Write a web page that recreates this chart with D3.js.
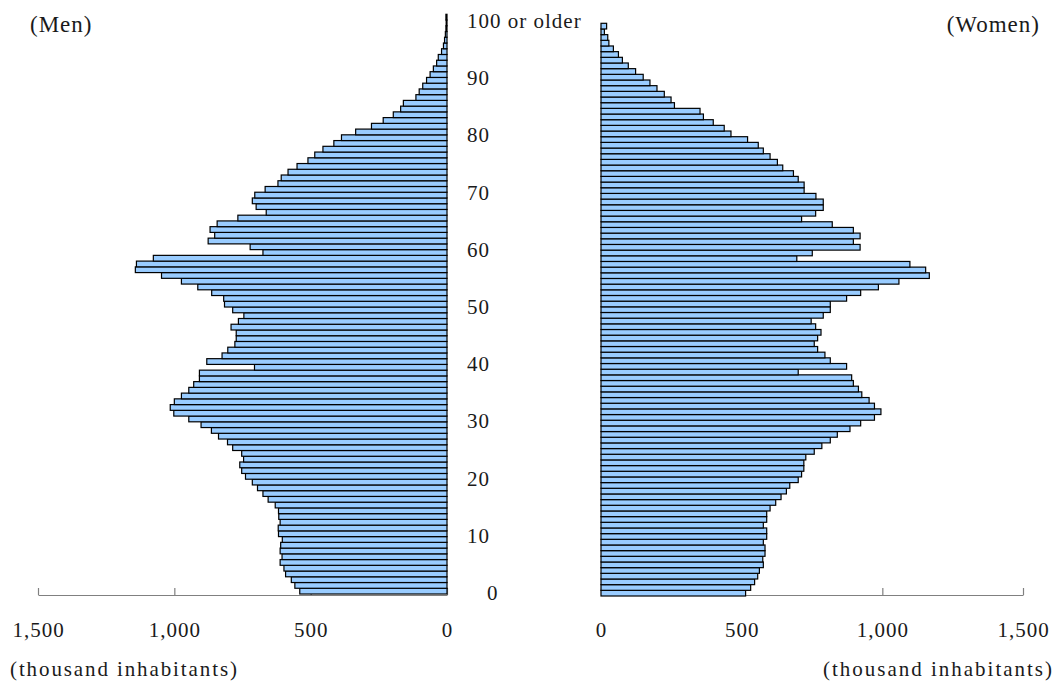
<!DOCTYPE html>
<html>
<head>
<meta charset="utf-8">
<script src="https://cdn.jsdelivr.net/npm/d3@7"></script>
<style>
  body { margin: 0; background: #fff; }
  text { font-family: "Liberation Serif", "DejaVu Serif", serif; fill: #1a1a1a; }
</style>
</head>
<body>
<div id="container"></div>
<script>
/* DATA (thousand inhabitants, index = age, last = 100 or older) */
const ages = d3.range(0, 101)
const men = [
  540, 558, 571, 592, 598, 612, 605, 612, 610, 604,
  618, 619, 612, 617, 618, 630, 656, 675, 695, 714,
  739, 753, 760, 746, 753, 786, 805, 838, 864, 902,
  947, 1002, 1015, 1000, 974, 947, 929, 908, 908, 706,
  881, 825, 804, 778, 773, 773, 792, 765, 745, 786,
  816, 819, 863, 914, 974, 1047, 1143, 1139, 1077, 675,
  722, 876, 852, 869, 843, 767, 663, 700, 714, 705,
  667, 620, 608, 583, 550, 510, 485, 455, 415, 387,
  335, 277, 234, 197, 170, 160, 114, 102, 89, 75,
  62, 50, 38, 32, 20, 13, 9, 6, 4, 3,
  4
]
const women = [
  514, 532, 546, 557, 563, 577, 575, 583, 583, 577,
  589, 589, 577, 589, 589, 601, 621, 640, 659, 671,
  701, 713, 721, 721, 728, 758, 785, 815, 840, 885,
  923, 972, 995, 972, 953, 927, 915, 897, 891, 701,
  873, 815, 796, 770, 758, 770, 782, 763, 747, 790,
  815, 815, 873, 923, 986, 1059, 1167, 1154, 1098, 696,
  751, 921, 897, 921, 897, 822, 713, 763, 790, 790,
  764, 722, 722, 701, 684, 646, 627, 601, 577, 559,
  521, 462, 438, 399, 364, 352, 261, 249, 225, 199,
  174, 150, 123, 97, 76, 62, 44, 28, 24, 12,
  20
]
const ageTicks = [0, 10, 20, 30, 40, 50, 60, 70, 80, 90, 100]
const ageTickLabels = ["0", "10", "20", "30", "40", "50", "60", "70", "80", "90", "100 or older"]
const valueTicks = [0, 500, 1000, 1500]

/* CONSTANTS */
const width = 1059, height = 684
const fontSize = 21

const svg = d3.select("#container")
  .append("svg")
  .attr("width", width)
  .attr("height", height)

// + SCALES
const xMen = d3.scaleLinear().domain([0, 1500]).range([447, 38])
const xWomen = d3.scaleLinear().domain([0, 1500]).range([601, 1023])

// the two halves of the original are not drawn on quite the same vertical grid
const yMen = d3.scaleBand().domain(ages).range([594, 14.3])
const yWomen = d3.scaleBand().domain(ages).range([596, 23.3])
const yLabel = d3.scalePoint().domain(ages).range([593, 21])

// DRAW BARS
svg.append("g")
  .selectAll("rect")
  .data(men.map((v, i) => ({ age: ages[i], value: v })))
  .join("rect")
  .attr("x", d => xMen(d.value))
  .attr("y", d => yMen(d.age))
  .attr("width", d => xMen(0) - xMen(d.value))
  .attr("height", yMen.bandwidth())
  .attr("fill", "#99ccff")
  .attr("stroke", "#000")
  .attr("stroke-width", 1.2)

svg.append("g")
  .selectAll("rect")
  .data(women.map((v, i) => ({ age: ages[i], value: v })))
  .join("rect")
  .attr("x", xWomen(0))
  .attr("y", d => yWomen(d.age))
  .attr("width", d => xWomen(d.value) - xWomen(0))
  .attr("height", yWomen.bandwidth())
  .attr("fill", "#99ccff")
  .attr("stroke", "#000")
  .attr("stroke-width", 1.2)

// BUILD AND CALL AXES
const fmt = d3.format(",")

function styleAxis(g) {
  g.attr("font-family", null).attr("font-size", null)
  g.select(".domain").attr("stroke", "#808080").attr("stroke-width", 1.2)
  g.selectAll(".tick line").attr("stroke", "#808080").attr("stroke-width", 1.2)
  g.selectAll(".tick text")
    .attr("font-size", fontSize)
    .attr("letter-spacing", 1)
    .attr("fill", "#1a1a1a")
}

svg.append("g")
  .attr("transform", "translate(0, 595)")
  .call(d3.axisBottom(xMen).tickValues(valueTicks).tickFormat(fmt)
    .tickSizeInner(-7).tickSizeOuter(0).tickPadding(27))
  .call(styleAxis)

svg.append("g")
  .attr("transform", "translate(0, 595)")
  .call(d3.axisBottom(xWomen).tickValues(valueTicks).tickFormat(fmt)
    .tickSizeInner(-7).tickSizeOuter(0).tickPadding(27))
  .call(styleAxis)

// keep the bars above the men's axis line like the original
svg.selectAll("g").filter((d, i) => i < 2).raise()

// AGE LABELS
svg.append("g")
  .selectAll("text")
  .data(ageTicks)
  .join("text")
  .attr("x", d => d === 0 ? 487 : 467)
  .attr("y", d => yLabel(d))
  .attr("dominant-baseline", "central")
  .attr("font-size", fontSize)
  .attr("letter-spacing", 1)
  .text((d, i) => ageTickLabels[i])

// TITLES
svg.append("text")
  .attr("x", 30).attr("y", 24)
  .attr("dominant-baseline", "central")
  .attr("font-size", 23)
  .attr("letter-spacing", 1)
  .text("(Men)")

svg.append("text")
  .attr("x", 1040).attr("y", 24)
  .attr("text-anchor", "end")
  .attr("dominant-baseline", "central")
  .attr("font-size", 23)
  .attr("letter-spacing", 1)
  .text("(Women)")

svg.append("text")
  .attr("x", 10).attr("y", 676)
  .attr("font-size", fontSize)
  .attr("textLength", 227)
  .attr("lengthAdjust", "spacing")
  .text("(thousand inhabitants)")

svg.append("text")
  .attr("x", 823).attr("y", 676)
  .attr("font-size", fontSize)
  .attr("textLength", 229)
  .attr("lengthAdjust", "spacing")
  .text("(thousand inhabitants)")
</script>
</body>
</html>
